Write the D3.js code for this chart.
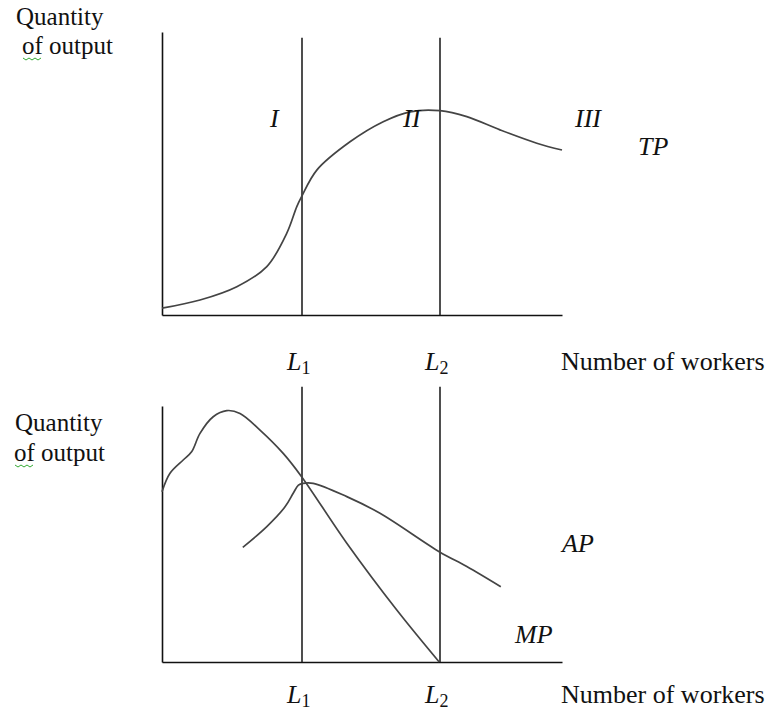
<!DOCTYPE html>
<html lang="en">
<head>
    <meta charset="UTF-8">
    <title>Stages of production</title>
    <style>
        body {
            margin: 0;
            background: #fff;
        }

        svg {
            display: block;
            font-family: "Liberation Serif", "Times New Roman", serif;
        }

        .axis path {
            stroke: #111;
            stroke-width: 1.6px;
        }

        .guide {
            stroke: #222;
            stroke-width: 1.6px;
        }

        .curve {
            fill: none;
            stroke: #444;
            stroke-width: 1.7px;
        }

        .label {
            font-size: 26px;
            fill: #111;
        }

        .ylab {
            font-size: 25px;
        }

        .it {
            font-style: italic;
        }

        .squiggle {
            fill: none;
            stroke: #3a3;
            stroke-width: 1;
        }
    </style>
</head>

<body>
    <svg id="chart" width="772" height="711"></svg>
</body>

<script src="https://cdn.jsdelivr.net/npm/d3@7"></script>

<script>
    // workers (0-100) on the x axis, output (0-100) on both y axes
    let workers = ["L1", "L2"]
    let workerLevels = [35, 69.5]
    let stages = ["I", "II", "III"]

    let tpX = [0, 9.5, 18.7, 26.2, 31.2, 33.7, 34.9, 38.7, 47, 55.3, 62, 69.5, 76.2, 84.5, 93.7, 100]
    let tpY = [2.4, 5.3, 10, 17.1, 28.9, 38.3, 41.8, 51.2, 61.2, 68.3, 71.8, 72.2, 70.1, 65.4, 60.7, 58.3]

    let mpX = [0, 2, 5.3, 7.4, 9.5, 12.8, 16.2, 19.5, 24.5, 30.3, 34.9, 46.2, 58.7, 69.3]
    let mpY = [66.5, 73.7, 78.9, 82.1, 89.3, 95.8, 98.2, 97.1, 90.6, 81.5, 72.4, 46.4, 20.3, 0]

    let apX = [20.2, 26.2, 30.8, 32.8, 34.1, 35.3, 37.8, 46.2, 54.5, 69.3, 76.2, 84.7]
    let apY = [44.8, 52.9, 60.7, 65.9, 69.1, 69.8, 69.8, 64.6, 58.1, 43.1, 37.3, 29.4]

    let svg = d3.select("#chart")

    let xScale = d3.scaleLinear().domain([0, 100]).range([162, 562])
    let yTop = d3.scaleLinear().domain([0, 100]).range([315, 32])
    let yBottom = d3.scaleLinear().domain([0, 100]).range([662, 406])

    function zip(xs, ys) {
        return xs.map((x, i) => ({ x: x, y: ys[i] }))
    }

    function drawPanel(yScale, guideTop) {
        let g = svg.append("g")

        g.append("g").attr("class", "axis")
            .attr("transform", `translate(0,${yScale(0)})`)
            .call(d3.axisBottom(xScale).tickValues([]).tickSizeOuter(0))

        g.append("g").attr("class", "axis")
            .attr("transform", `translate(${xScale(0)},0)`)
            .call(d3.axisLeft(yScale).tickValues([]).tickSizeOuter(0))

        g.selectAll(".guide")
            .data(workerLevels)
            .enter()
            .append("line")
            .attr("class", "guide")
            .attr("x1", d => xScale(d))
            .attr("x2", d => xScale(d))
            .attr("y1", yScale(0))
            .attr("y2", yScale(guideTop))

        return g
    }

    function drawCurve(g, yScale, points) {
        let line = d3.line()
            .x(d => xScale(d.x))
            .y(d => yScale(d.y))
            .curve(d3.curveCatmullRom.alpha(0.5))
        g.append("path").datum(points).attr("class", "curve").attr("d", line)
    }

    function yLabel(x, y1, y2, sx) {
        svg.append("text").attr("class", "label ylab").attr("x", x).attr("y", y1).text("Quantity")
        svg.append("text").attr("class", "label ylab").attr("x", sx).attr("y", y2).text("of output")
        // spell check underline
        let pts = d3.range(0, 21, 3).map((d, i) => [sx + 1 + d, y2 + 4 + (i % 2 ? 2 : 0)])
        svg.append("path").attr("class", "squiggle").attr("d", d3.line()(pts))
    }

    function xLabels(baseline) {
        let t = svg.selectAll(null)
            .data(workers)
            .enter()
            .append("text")
            .attr("class", "label")
            .attr("x", (d, i) => xScale(workerLevels[i]) - 15)
            .attr("y", baseline)
        t.append("tspan").attr("class", "it").text(d => d[0])
        t.append("tspan").attr("dy", 4).style("font-size", "18px").text(d => d[1])

        svg.append("text").attr("class", "label")
            .attr("x", 561).attr("y", baseline)
            .text("Number of workers")
    }

    // top panel: total product
    let topPanel = drawPanel(yTop, 98)
    drawCurve(topPanel, yTop, zip(tpX, tpY))

    let stageX = [270, 403, 575]
    svg.selectAll(null)
        .data(stages)
        .enter()
        .append("text")
        .attr("class", "label it")
        .attr("x", (d, i) => stageX[i])
        .attr("y", 127)
        .text(d => d)
    svg.append("text").attr("class", "label it").attr("x", 638).attr("y", 155).text("TP")

    yLabel(16, 25, 54, 22)
    xLabels(370)

    // bottom panel: marginal and average product
    let bottomPanel = drawPanel(yBottom, 107.5)
    drawCurve(bottomPanel, yBottom, zip(mpX, mpY))
    drawCurve(bottomPanel, yBottom, zip(apX, apY))

    svg.append("text").attr("class", "label it").attr("x", 562).attr("y", 552).text("AP")
    svg.append("text").attr("class", "label it").attr("x", 515).attr("y", 643).text("MP")

    yLabel(15, 431, 461, 14)
    xLabels(703)
</script>

</html>
